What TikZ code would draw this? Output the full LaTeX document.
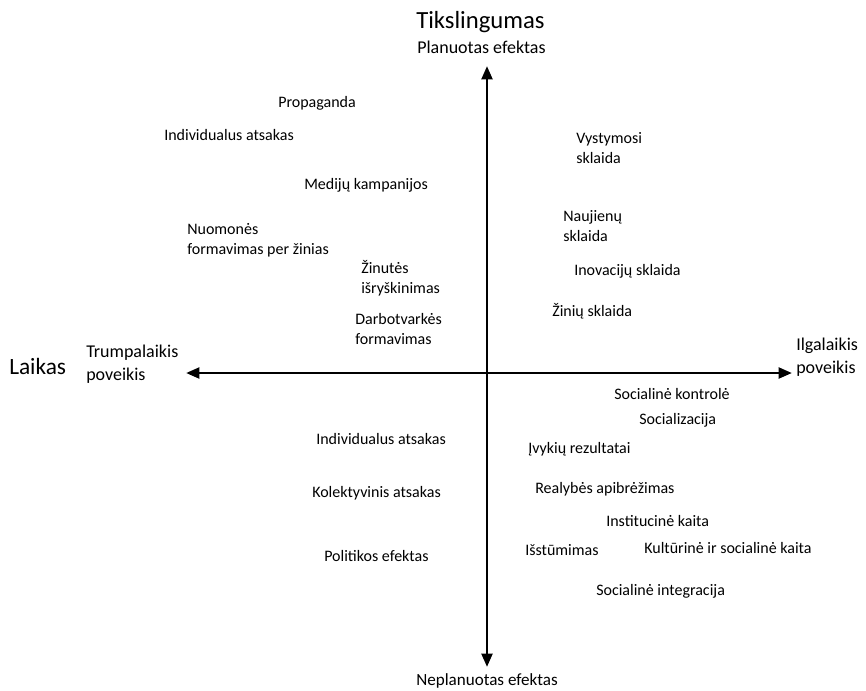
\documentclass[tikz,border=0pt]{standalone}
\usepackage{fontspec}
\setmainfont{Carlito}
\usetikzlibrary{arrows.meta}
\begin{document}
\begin{tikzpicture}[x=0.75pt,y=-0.75pt,
  item/.style={font=\fontsize{12}{15}\selectfont,inner sep=0pt,anchor=west,align=left},
  axlbl/.style={font=\fontsize{13.5}{17}\selectfont,inner sep=0pt,align=left},
  biglbl/.style={font=\fontsize{17.5}{21}\selectfont,inner sep=0pt},
  axis/.style={line width=2.2pt,-{Triangle[length=10pt,width=8pt]}}]
\useasboundingbox (0,0) rectangle (866,690);
% axes
\coordinate (o) at (487,373);
\coordinate (top) at (487,66);
\coordinate (bot) at (487,667);
\coordinate (lft) at (186,373);
\coordinate (rgt) at (792,373);
\draw[axis] (o) -- (top);
\draw[axis] (o) -- (bot);
\draw[axis] (o) -- (lft);
\draw[axis] (o) -- (rgt);
% axis labels
\node[biglbl,anchor=west,font=\fontsize{18.5}{22}\selectfont] (tiksl) at (416,22) {Tikslingumas};
\node[axlbl,anchor=west] (plan) at (417,47) {Planuotas efektas};
\node[axlbl,anchor=center,font=\fontsize{12.8}{16}\selectfont] (neplan) at (487,681) {Neplanuotas efektas};
\node[biglbl,anchor=west] (laikas) at (9,366) {Laikas};
\node[axlbl,anchor=west] (trump) at (86,364) {Trumpalaikis\\poveikis};
\node[axlbl,anchor=west] (ilg) at (796,357) {Ilgalaikis\\poveikis};
% upper left
\node[item] (prop) at (278,103) {Propaganda};
\node[item] (indiv1) at (164,135) {Individualus atsakas};
\node[item] (med) at (304,185) {Medijų kampanijos};
\node[item] (nuom) at (187,240) {Nuomonės\\formavimas per žinias};
\node[item] (zin) at (361,278) {Žinutės\\išryškinimas};
\node[item] (darb) at (355,329) {Darbotvarkės\\formavimas};
% upper right
\node[item] (vyst) at (576,148) {Vystymosi\\sklaida};
\node[item] (nauj) at (563,226) {Naujienų\\sklaida};
\node[item] (inov) at (574,271) {Inovacijų sklaida};
\node[item] (zinsk) at (552,311) {Žinių sklaida};
% lower left
\node[item] (indiv2) at (316,439) {Individualus atsakas};
\node[item] (kol) at (312,493) {Kolektyvinis atsakas};
\node[item] (pol) at (324,556) {Politikos efektas};
% lower right
\node[item] (sk) at (614,394) {Socialinė kontrolė};
\node[item] (soc) at (639,420) {Socializacija};
\node[item] (ivyk) at (528,449) {Įvykių rezultatai};
\node[item] (real) at (535,489) {Realybės apibrėžimas};
\node[item] (inst) at (606,521) {Institucinė kaita};
\node[item] (isst) at (525,550) {Išstūmimas};
\node[item] (kult) at (644,548) {Kultūrinė ir socialinė kaita};
\node[item] (integ) at (596,591) {Socialinė integracija};
\end{tikzpicture}
\end{document}
